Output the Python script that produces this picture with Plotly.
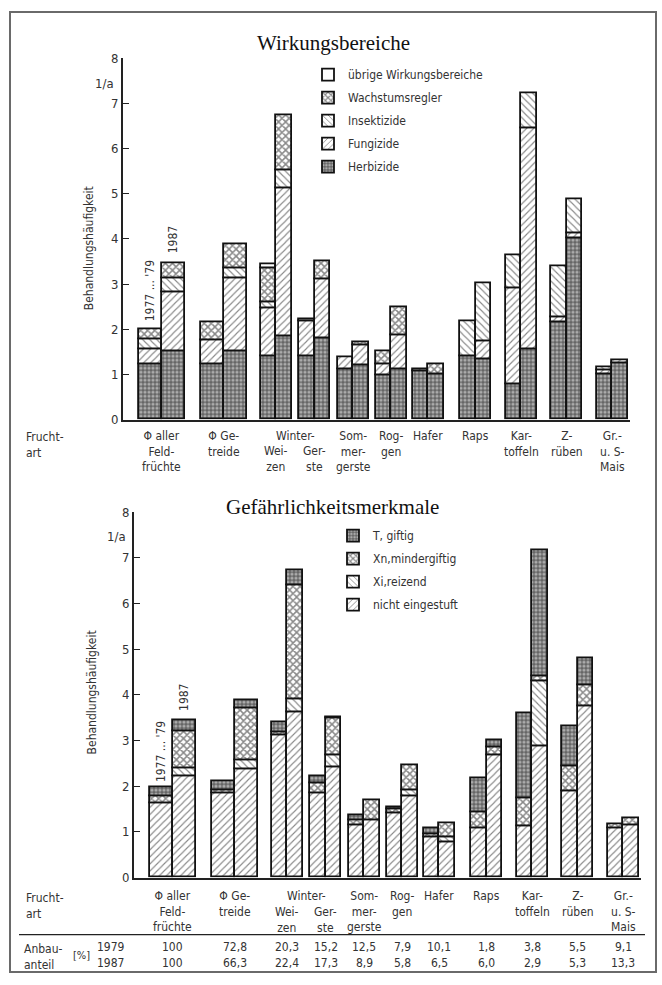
import numpy as np
import plotly.graph_objects as go

W, H = 662, 985

# ---------------------------------------------------------------- data
crops = ["Φ aller Feldfrüchte", "Φ Getreide", "Winter-Weizen", "Winter-Gerste",
         "Sommergerste", "Roggen", "Hafer", "Raps", "Kartoffeln", "Z-rüben",
         "Gr.- u. S-Mais"]
years = ["1977 ... '79", "1987"]

# Wirkungsbereiche: Behandlungshäufigkeit (1/a), 1977...'79
herb_79 = [1.22, 1.22, 1.41, 1.41, 1.11, 0.99, 1.07, 1.40, 0.78, 2.15, 1.00]
fung_79 = [0.34, 0.53, 1.06, 0.77, 0.27, 0.23, 0.05, 0.00, 2.14, 0.12, 0.10]
ins_79 = [0.22, 0.00, 0.14, 0.00, 0.00, 0.00, 0.00, 0.78, 0.71, 1.12, 0.07]
wachs_79 = [0.22, 0.40, 0.75, 0.00, 0.00, 0.30, 0.00, 0.00, 0.00, 0.00, 0.00]
ueb_79 = [0.00, 0.00, 0.08, 0.04, 0.00, 0.00, 0.00, 0.00, 0.00, 0.00, 0.00]

# Wirkungsbereiche, 1987
herb_87 = [1.52, 1.52, 1.85, 1.81, 1.20, 1.11, 1.01, 1.33, 1.55, 4.01, 1.25]
fung_87 = [1.31, 1.60, 3.27, 1.29, 0.44, 0.76, 0.00, 0.40, 4.89, 0.12, 0.07]
ins_87 = [0.31, 0.24, 0.41, 0.00, 0.00, 0.00, 0.00, 1.29, 0.78, 0.75, 0.00]
wachs_87 = [0.32, 0.53, 1.21, 0.40, 0.08, 0.62, 0.21, 0.00, 0.00, 0.00, 0.00]
ueb_87 = [0.00, 0.00, 0.00, 0.00, 0.00, 0.00, 0.00, 0.00, 0.00, 0.00, 0.00]

# Gefährlichkeitsmerkmale, 1977...'79
nicht_79 = [1.62, 1.84, 3.12, 1.85, 1.14, 1.40, 0.88, 1.08, 1.13, 1.90, 1.09]
xi_79 = [0.00, 0.00, 0.00, 0.00, 0.00, 0.00, 0.00, 0.00, 0.00, 0.00, 0.00]
xn_79 = [0.16, 0.08, 0.07, 0.21, 0.11, 0.09, 0.07, 0.36, 0.60, 0.54, 0.08]
t_79 = [0.20, 0.18, 0.21, 0.15, 0.12, 0.06, 0.14, 0.73, 1.87, 0.87, 0.00]

# Gefährlichkeitsmerkmale, 1987
nicht_87 = [2.21, 2.37, 3.63, 2.41, 1.26, 1.78, 0.78, 2.69, 2.88, 3.76, 1.14]
xi_87 = [0.18, 0.20, 0.28, 0.27, 0.00, 0.14, 0.10, 0.00, 1.41, 0.00, 0.00]
xn_87 = [0.81, 1.14, 2.49, 0.80, 0.44, 0.54, 0.32, 0.17, 0.11, 0.46, 0.15]
t_87 = [0.25, 0.17, 0.34, 0.04, 0.00, 0.00, 0.00, 0.14, 2.77, 0.59, 0.00]

# Anbauanteil [%]
anbau_79 = ["100", "72,8", "20,3", "15,2", "12,5", "7,9", "10,1", "1,8", "3,8", "5,5", "9,1"]
anbau_87 = ["100", "66,3", "22,4", "17,3", "8,9", "5,8", "6,5", "6,0", "2,9", "5,3", "13,3"]

# axis labels under the bar pairs (Winter-Weizen / Winter-Gerste share "Winter-")
crop_labels = ["Φ aller<br>Feld-<br>früchte", "Φ Ge-<br>treide", "Wei-<br>zen",
               "Ger-<br>ste", "Som-<br>mer-<br>gerste", "Rog-<br>gen", "Hafer",
               "Raps", "Kar-<br>toffeln", "Z-<br>rüben", "Gr.-<br>u. S-<br>Mais"]
label_row = [0, 0, 1, 1, 0, 0, 0, 0, 0, 0, 0]

# ---------------------------------------------------------------- layout helpers
# x axis runs in pixel-sized units along the crop axis
group_pos = np.array([38.5, 100.5, 153, 191.5, 230, 268, 305, 352.5, 398, 443.5, 489])
bar_w = np.array([23, 23] + [15.5] * 9)

FONT = "DejaVu Sans Condensed, Liberation Sans Narrow, Roboto, sans-serif"
SERIF = "Liberation Serif, DejaVu Serif, serif"
INK = "#222"
TXT = "#333"
LINE_H = 15.6


def py(p):
    """pixel row -> paper y"""
    return 1 - p / H


def px(p):
    return p / W


pat_dots = dict(shape=".", fgcolor="#f2f2f2", bgcolor="#646464", size=4, solidity=0.5)
pat_fwd = dict(shape="/", fgcolor="#111", bgcolor="white", size=5, solidity=0.22)
pat_back = dict(shape="\\", fgcolor="#111", bgcolor="white", size=5, solidity=0.22)
pat_cross = dict(shape="x", fgcolor="#111", bgcolor="white", size=5, solidity=0.52)
pat_none = dict(shape="", fgcolor="#111", bgcolor="white")

top_series = [
    ("Herbizide", herb_79, herb_87, pat_dots),
    ("Fungizide", fung_79, fung_87, pat_fwd),
    ("Insektizide", ins_79, ins_87, pat_back),
    ("Wachstumsregler", wachs_79, wachs_87, pat_cross),
    ("übrige Wirkungsbereiche", ueb_79, ueb_87, pat_none),
]
bot_series = [
    ("nicht eingestuft", nicht_79, nicht_87, pat_fwd),
    ("Xi,reizend", xi_79, xi_87, pat_back),
    ("Xn,mindergiftig", xn_79, xn_87, pat_cross),
    ("T, giftig", t_79, t_87, pat_dots),
]

fig = go.Figure()


def add_stack(series, xa, ya, legend):
    for yi, sign in ((0, -0.5), (1, 0.5)):
        base = np.zeros(len(crops))
        for k, (name, v79, v87, pat) in enumerate(series):
            vals = np.array(v79 if yi == 0 else v87, dtype=float)
            shown = np.where(vals > 0, vals, np.nan)
            fig.add_trace(go.Bar(
                x=group_pos + sign * bar_w, y=shown, base=base.copy(), width=bar_w,
                xaxis=xa, yaxis=ya, name=name, legend=legend,
                legendgroup=legend + name, showlegend=(yi == 0), legendrank=100 - k,
                marker=dict(color=pat["bgcolor"], pattern=pat,
                            line=dict(color="#111", width=1.8)),
                hovertemplate=f"%{{customdata}} {years[yi]}<br>{name}: %{{y}}<extra></extra>",
                customdata=crops,
            ))
            base = base + vals


add_stack(top_series, "x", "y", "legend")
add_stack(bot_series, "x2", "y2", "legend2")

tot_top_79 = np.sum([s[1] for s in top_series], axis=0)
tot_top_87 = np.sum([s[2] for s in top_series], axis=0)
tot_bot_79 = np.sum([s[1] for s in bot_series], axis=0)
tot_bot_87 = np.sum([s[2] for s in bot_series], axis=0)

axis_common = dict(showgrid=False, zeroline=False, showline=True, linecolor=INK,
                   linewidth=1.8, fixedrange=True)
yaxis_common = dict(axis_common, range=[0, 8], tickvals=list(range(9)), ticks="inside",
                    ticklen=6, tickcolor=INK, tickwidth=1.2,
                    tickfont=dict(family=FONT, size=13, color=TXT))
xaxis_common = dict(axis_common, range=[0, 507], showticklabels=False, ticks="")

legend_common = dict(xanchor="left", yanchor="top", traceorder="grouped", tracegroupgap=4,
                     font=dict(family=FONT, size=12, color=TXT), bgcolor="rgba(0,0,0,0)")

fig.update_layout(
    width=W, height=H, margin=dict(l=0, r=0, t=0, b=0),
    paper_bgcolor="white", plot_bgcolor="rgba(0,0,0,0)",
    barmode="overlay", bargap=0,
    xaxis=dict(xaxis_common, domain=[px(123), px(630)], anchor="y"),
    yaxis=dict(yaxis_common, domain=[py(419), py(52)], anchor="x"),
    xaxis2=dict(xaxis_common, domain=[px(134), px(641)], anchor="y2"),
    yaxis2=dict(yaxis_common, domain=[py(884), py(513)], anchor="x2"),
    legend=dict(legend_common, x=px(308), y=py(54)),
    legend2=dict(legend_common, x=px(333), y=py(522)),
    showlegend=True,
)

ann = []
lab_font = dict(family=FONT, size=12, color=TXT)


def note(text, x, y, xref="paper", yref="paper", xanchor="center", yanchor="middle",
         **kw):
    kw.setdefault("font", lab_font)
    ann.append(dict(text=text, x=x, y=y, xref=xref, yref=yref, xanchor=xanchor,
                    yanchor=yanchor, showarrow=False, **kw))


# panel titles
note("Wirkungsbereiche", px(333), py(37), font=dict(family=SERIF, size=21, color="#111"))
note("Gefährlichkeitsmerkmale", px(332), py(508),
     font=dict(family=SERIF, size=21, color="#111"))

# unit and y titles
for xp, yp in ((116, 78), (128, 538)):
    note("1/a", px(xp), py(yp), xanchor="right", font=dict(family=FONT, size=13, color=TXT))
for xp, yp in ((89, 245), (92, 696)):
    note("Behandlungshäufigkeit", px(xp), py(yp), textangle=-90)

# year labels above the first pair of bars
for xa, ya, t79, t87, s79, s87 in (("x", "y", tot_top_79, tot_top_87, 38, 23),
                                   ("x2", "y2", tot_bot_79, tot_bot_87, 35, 22)):
    note(years[0], group_pos[0] - 0.5 * bar_w[0], t79[0], xref=xa, yref=ya, yshift=s79,
         textangle=-90)
    note(years[1], group_pos[0] + 0.5 * bar_w[0], t87[0], xref=xa, yref=ya, yshift=s87,
         textangle=-90)

# crop labels under both panels
for xa, top in (("x", 426), ("x2", 894)):
    for i, lab in enumerate(crop_labels):
        note(lab, group_pos[i], py(top + label_row[i] * LINE_H), xref=xa, yanchor="top")
    note("Winter-", (group_pos[2] + group_pos[3]) / 2, py(top), xref=xa, yanchor="top")
    note("Frucht-<br>art", px(24), py(top + 2), xanchor="left", yanchor="top",
         align="left")

# Anbauanteil table
for row, vals, yp in ((0, anbau_79, 955), (1, anbau_87, 971)):
    for i, v in enumerate(vals):
        note(v, group_pos[i], py(yp), xref="x2")
    note(["1979", "1987"][row], px(95), py(yp), xanchor="left")
note("Anbau-<br>anteil", px(22), py(947), xanchor="left", yanchor="top", align="left")
note("[%]", px(71), py(963), xanchor="left", font=dict(family=FONT, size=11, color=TXT))

fig.update_layout(annotations=ann)

# frame and table rule
fig.add_shape(type="rect", xref="paper", yref="paper", x0=px(10), x1=px(656),
              y0=py(980), y1=py(5), line=dict(color="#6a6a6a", width=2))
fig.add_shape(type="line", xref="paper", yref="paper", x0=px(19), x1=px(645),
              y0=py(942), y1=py(942), line=dict(color=INK, width=1.4))

fig.write_html("out.html")
